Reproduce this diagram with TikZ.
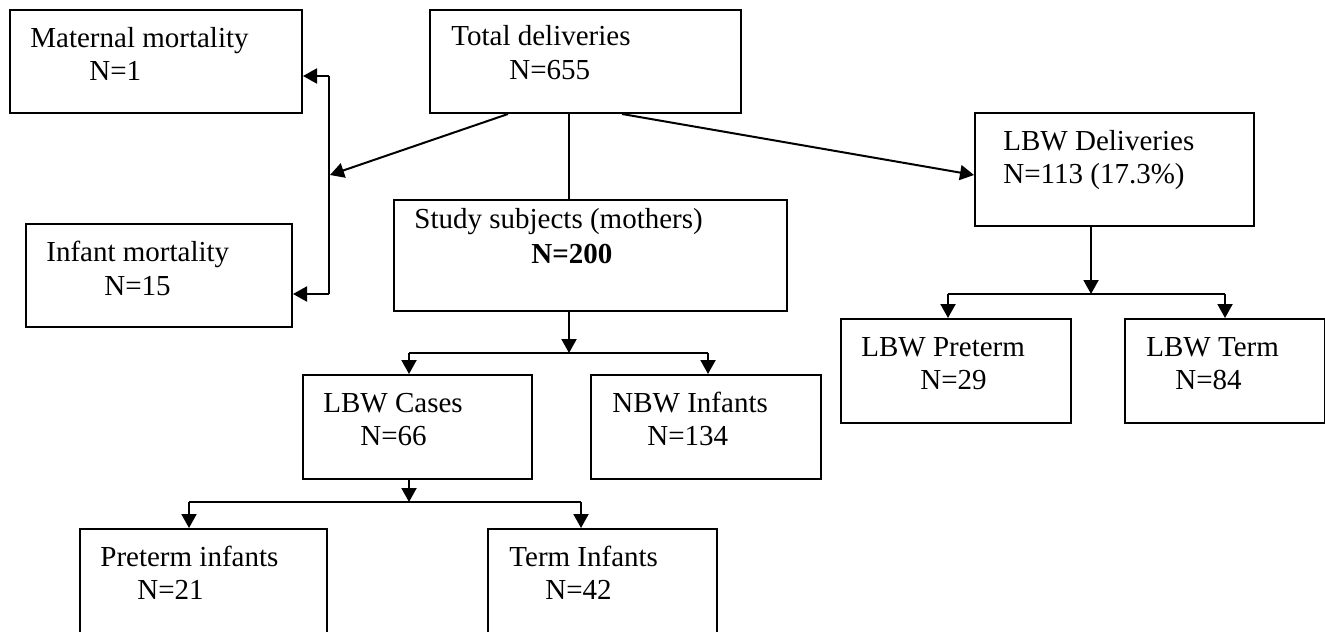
\documentclass[tikz,border=0pt]{standalone}
\usepackage{fontspec}
\setmainfont{Liberation Serif}
\usetikzlibrary{arrows.meta}
\begin{document}
\begin{tikzpicture}[x=0.5pt,y=-0.5pt]
  \tikzstyle{box}=[draw,rectangle,line width=1pt,inner sep=0pt,anchor=north west]
  \tikzstyle{txt}=[anchor=base west,inner sep=0pt,font=\fontsize{14.5pt}{17pt}\selectfont]
  \tikzstyle{arr}=[line width=1pt,-{Triangle[length=7pt,width=7.5pt]}]
  \tikzstyle{ln}=[line width=1pt]
  \useasboundingbox (0,0) rectangle (1325,631);
  \clip (0,0) rectangle (1325,631);

  \node[box,minimum width=146pt,minimum height=51.5pt] (mat) at (9,9) {};
  \node[box,minimum width=155.5pt,minimum height=51.5pt] (tot) at (429,9) {};
  \node[box,minimum width=133pt,minimum height=51.5pt] (inf) at (25,223) {};
  \node[box,minimum width=196.5pt,minimum height=55.5pt] (stu) at (393,199) {};
  \node[box,minimum width=139.5pt,minimum height=56.5pt] (lbwd) at (974,112) {};
  \node[box,minimum width=115pt,minimum height=52pt] (lpre) at (840,318) {};
  \node[box,minimum width=100pt,minimum height=52pt] (lterm) at (1124,318) {};
  \node[box,minimum width=114.5pt,minimum height=52pt] (cases) at (302,374) {};
  \node[box,minimum width=115pt,minimum height=52pt] (nbw) at (590,374) {};
  \node[box,minimum width=123.5pt,minimum height=56pt] (pre) at (79,528) {};
  \node[box,minimum width=114.5pt,minimum height=56pt] (term) at (487,528) {};

  \node[txt] (matA) at (30,48) {Maternal mortality};
  \node[txt] (matB) at (89,81) {N=1};
  \node[txt] (totA) at (451,46) {Total deliveries};
  \node[txt] (totB) at (509,80) {N=655};
  \node[txt] (infA) at (46,261) {Infant mortality};
  \node[txt] (infB) at (104,295) {N=15};
  \node[txt] (stuA) at (414,228) {Study subjects (mothers)};
  \node[txt] (stuB) at (531,263) {\textbf{N=200}};
  \node[txt] (lbwdA) at (1003,150) {LBW Deliveries};
  \node[txt] (lbwdB) at (1003,183) {N=113 (17.3\%)};
  \node[txt] (lpreA) at (861,356) {LBW Preterm};
  \node[txt] (lpreB) at (920,389) {N=29};
  \node[txt] (ltermA) at (1146,356) {LBW Term};
  \node[txt] (ltermB) at (1175,389) {N=84};
  \node[txt] (casesA) at (323,412) {LBW Cases};
  \node[txt] (casesB) at (360,445) {N=66};
  \node[txt] (nbwA) at (612,412) {NBW Infants};
  \node[txt] (nbwB) at (647,445) {N=134};
  \node[txt] (preA) at (100,566) {Preterm infants};
  \node[txt] (preB) at (137,599) {N=21};
  \node[txt] (termA) at (509,566) {Term Infants};
  \node[txt] (termB) at (545,599) {N=42};

  \coordinate (lt) at (329,76);
  \coordinate (lb) at (329,294);
  \coordinate (lj) at (330,175);
  \draw[ln] (lt) -- (lb);
  \draw[arr] (lt) -- (lt -| mat.east);
  \draw[arr] (lb) -- (lb -| inf.east);
  \draw[arr] ([xshift=39.5pt]tot.south west) -- (lj);
  \draw[ln] ([xshift=70pt]tot.south west) -- ([xshift=88pt]stu.north west);
  \draw[arr] ([xshift=96.5pt]tot.south west) -- ([yshift=-31.5pt]lbwd.north west);

  \coordinate (rj) at (1091,294);
  \coordinate (rl) at (948,294);
  \coordinate (rr) at (1225,294);
  \draw[arr] (rj |- lbwd.south) -- (rj);
  \draw[ln] (rl) -- (rr);
  \draw[arr] (rl) -- (rl |- lpre.north);
  \draw[arr] (rr) -- (rr |- lterm.north);

  \coordinate (mj) at (569,353);
  \coordinate (ml) at (409,353);
  \coordinate (mr) at (708,353);
  \draw[arr] (mj |- stu.south) -- (mj);
  \draw[ln] (ml) -- (mr);
  \draw[arr] (ml) -- (ml |- cases.north);
  \draw[arr] (mr) -- (mr |- nbw.north);

  \coordinate (bj) at (409,502);
  \coordinate (bl) at (189,502);
  \coordinate (br) at (581,502);
  \draw[arr] (bj |- cases.south) -- (bj);
  \draw[ln] (bl) -- (br);
  \draw[arr] (bl) -- (bl |- pre.north);
  \draw[arr] (br) -- (br |- term.north);

\end{tikzpicture}
\end{document}
